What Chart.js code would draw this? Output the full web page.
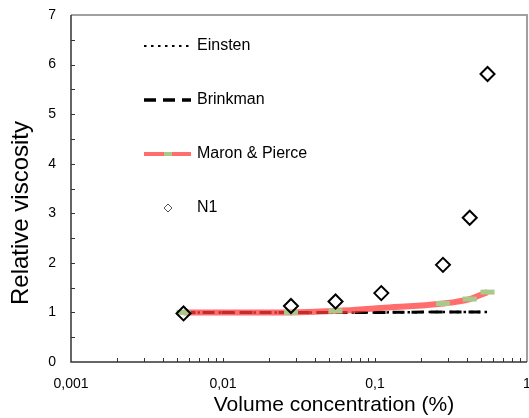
<!DOCTYPE html>
<html>
<head>
<meta charset="utf-8">
<script src="https://cdn.jsdelivr.net/npm/chart.js@4.4.0/dist/chart.umd.min.js"></script>
<style>
  html, body { margin: 0; padding: 0; background: #fff; }
</style>
</head>
<body>
<canvas id="chart" width="529" height="418"></canvas>
<script>
// volume concentration (%) and relative viscosity
const concentration = [0.0055, 0.028, 0.055, 0.11, 0.28, 0.42, 0.55];
const n1 = [0.98, 1.13, 1.22, 1.39, 1.96, 2.91, 5.81];
const einstein = [1.00, 1.00, 1.00, 1.00, 1.01, 1.01, 1.01];
const brinkman = [1.00, 1.00, 1.00, 1.00, 1.01, 1.01, 1.01];
const maronPierce = [1.00, 1.00, 1.03, 1.09, 1.18, 1.27, 1.41];
const xTicks = [0.001, 0.01, 0.1, 1];
const yTicks = [0, 1, 2, 3, 4, 5, 6, 7];
const xTitle = 'Volume concentration (%)';
const yTitle = 'Relative viscosity';

const FONT = '"Liberation Sans", Arial, sans-serif';
Chart.defaults.font.family = FONT;
Chart.defaults.color = '#000';

const pts = vals => concentration.map((c, i) => ({ x: c, y: vals[i] }));

// frame + inward tick marks like the original
const axisFrame = {
  id: 'axisFrame',
  beforeDatasetsDraw(chart) {
    const { ctx, chartArea: a, scales: { x, y } } = chart;
    ctx.save();
    ctx.strokeStyle = '#a0a0a0';
    ctx.lineWidth = 2;
    ctx.beginPath();
    ctx.moveTo(a.left, a.top); ctx.lineTo(a.right, a.top); ctx.lineTo(a.right, a.bottom);
    ctx.stroke();
    ctx.strokeStyle = '#333';
    ctx.lineWidth = 1.5;
    ctx.beginPath();
    ctx.moveTo(a.left, a.top); ctx.lineTo(a.left, a.bottom); ctx.lineTo(a.right, a.bottom);
    ctx.stroke();
    ctx.lineWidth = 1;
    ctx.beginPath();
    for (let v = 0.5; v < 7; v += 0.5) {
      const py = Math.round(y.getPixelForValue(v)) + 0.5;
      ctx.moveTo(a.left, py); ctx.lineTo(a.left + 4, py);
    }
    for (let d = -3; d < 0; d++) {
      for (let k = 1; k <= 9; k++) {
        if (d === -3 && k === 1) continue;
        const px = Math.round(x.getPixelForValue(k * Math.pow(10, d))) + 0.5;
        ctx.moveTo(px, a.bottom); ctx.lineTo(px, a.bottom - 4);
      }
    }
    ctx.stroke();
    ctx.restore();
  },
  // axis titles sit off-centre in the original, so place them by hand
  afterDraw(chart) {
    const { ctx, chartArea: a } = chart;
    ctx.save();
    ctx.fillStyle = '#000';
    ctx.textAlign = 'center';
    ctx.textBaseline = 'middle';
    ctx.font = '21px ' + FONT;
    ctx.fillText(xTitle, a.left + 263, a.bottom + 43);
    ctx.translate(21, a.bottom - 149);
    ctx.rotate(-Math.PI / 2);
    ctx.font = '24px ' + FONT;
    ctx.fillText(yTitle, 0, 0);
    ctx.restore();
  }
};

// legend inside the plot, stacked down the left side
const insideLegend = {
  id: 'insideLegend',
  afterDraw(chart) {
    const { ctx, chartArea: a } = chart;
    const ds = chart.data.datasets;
    const x0 = a.left + 73, x1 = a.left + 120, tx = a.left + 126;
    ctx.save();
    ctx.font = '16px ' + FONT;
    ctx.fillStyle = '#000';
    ctx.textBaseline = 'middle';
    ds.forEach((d, i) => {
      const yy = a.top + 31 + i * 54;
      ctx.save();
      if (d.showLine === false) {
        ctx.strokeStyle = '#555';
        ctx.lineWidth = 1;
        const cx = x0 + 24;
        ctx.beginPath();
        ctx.moveTo(cx, yy - 4); ctx.lineTo(cx + 4, yy); ctx.lineTo(cx, yy + 4); ctx.lineTo(cx - 4, yy);
        ctx.closePath();
        ctx.stroke();
      } else {
        ctx.strokeStyle = d.borderColor;
        ctx.lineWidth = d.legendWidth;
        ctx.setLineDash(d.borderDash || []);
        ctx.beginPath();
        ctx.moveTo(x0, yy); ctx.lineTo(x1, yy);
        ctx.stroke();
        if (d.pointBorderColor) {
          ctx.setLineDash([]);
          ctx.strokeStyle = d.pointBorderColor;
          ctx.beginPath();
          ctx.moveTo(x0 + 20, yy); ctx.lineTo(x0 + 28, yy);
          ctx.stroke();
        }
      }
      ctx.restore();
      ctx.fillText(d.label, tx, yy);
    });
    ctx.restore();
  }
};

const noPad = () => ({ left: 0, top: 0, right: 0, bottom: 0 });

new Chart(document.getElementById('chart'), {
  type: 'line',
  data: {
    datasets: [{
      label: 'Einsten',
      data: pts(einstein),
      borderColor: '#000',
      borderWidth: 2.5,
      borderDash: [2.5, 4.5],
      legendWidth: 2,
      pointRadius: 0,
      order: 4
    }, {
      label: 'Brinkman',
      data: pts(brinkman),
      borderColor: '#000',
      borderWidth: 3,
      borderDash: [12, 7],
      legendWidth: 3.5,
      pointRadius: 0,
      order: 3
    }, {
      label: 'Maron & Pierce',
      data: pts(maronPierce),
      borderColor: 'rgba(255, 60, 60, 0.75)',
      borderWidth: 6,
      legendWidth: 4,
      tension: 0.4,
      cubicInterpolationMode: 'monotone',
      pointStyle: 'line',
      pointRadius: ctx => (ctx.dataIndex === 3 ? 0 : 7),
      pointBorderWidth: 5,
      pointBorderColor: '#a9c98a',
      order: 2
    }, {
      label: 'N1',
      data: pts(n1),
      showLine: false,
      pointStyle: 'rectRot',
      pointRadius: 7,
      pointBorderWidth: 2,
      pointBorderColor: '#000',
      pointBackgroundColor: 'rgba(0,0,0,0)',
      order: 1
    }]
  },
  options: {
    responsive: false,
    animation: false,
    layout: { autoPadding: false, padding: { top: 15, right: 2, left: 0, bottom: 0 } },
    plugins: {
      legend: { display: false },
      tooltip: { enabled: false }
    },
    scales: {
      x: {
        type: 'logarithmic',
        min: 0.001,
        max: 1,
        afterBuildTicks: s => { s.ticks = xTicks.map(v => ({ value: v })); },
        afterFit: s => { s.height = 56; s.paddingLeft = 0; s.paddingRight = 0; s.getPadding = noPad; },
        grid: { display: false, drawTicks: false },
        border: { display: false },
        ticks: {
          padding: 14,
          maxRotation: 0,
          autoSkip: false,
          font: { size: 14 },
          callback: v => String(v).replace('.', ',')
        }
      },
      y: {
        min: 0,
        max: 7,
        afterBuildTicks: s => { s.ticks = yTicks.map(v => ({ value: v })); },
        afterFit: s => { s.width = 71; s.paddingTop = 0; s.paddingBottom = 0; s.getPadding = noPad; },
        grid: { display: false, drawTicks: false },
        border: { display: false },
        ticks: { padding: 15, font: { size: 14 } }
      }
    }
  },
  plugins: [axisFrame, insideLegend]
});
</script>
</body>
</html>
